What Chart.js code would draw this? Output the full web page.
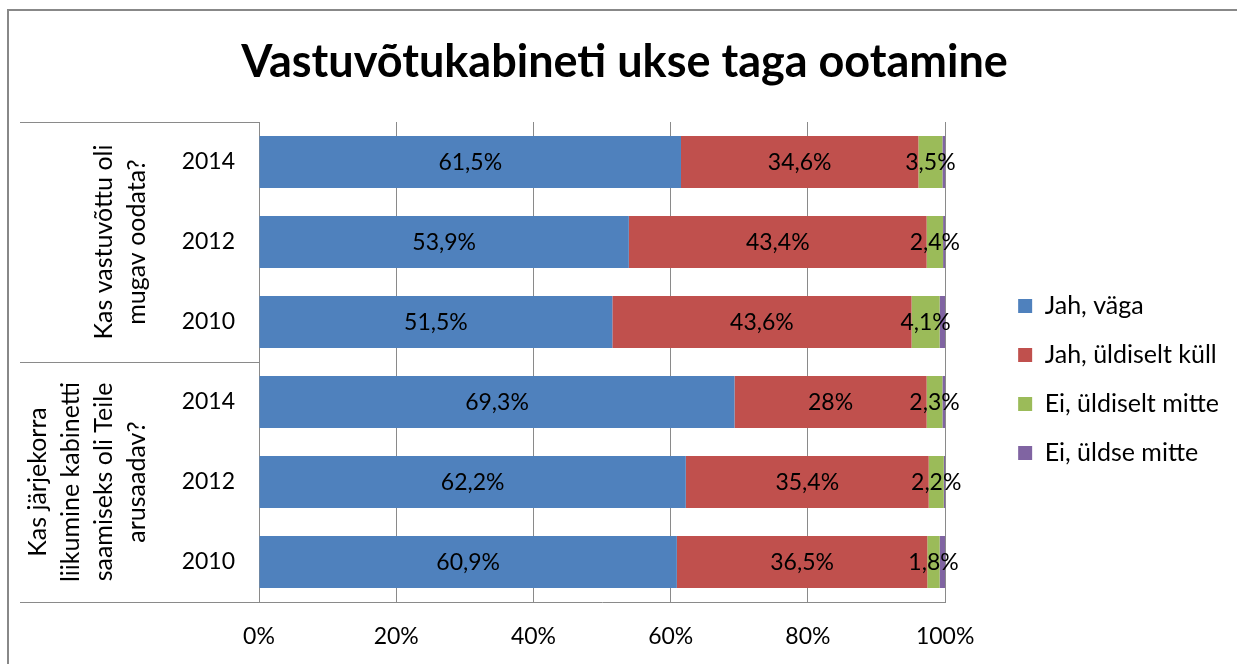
<!DOCTYPE html>
<html>
<head>
<meta charset="utf-8">
<script src="https://cdn.jsdelivr.net/npm/chart.js@4"></script>
<style>
  html, body { margin: 0; padding: 0; background: #fff; }
  #wrap { width: 1237px; height: 664px; }
</style>
</head>
<body>
<div id="wrap"><canvas id="chart" width="1237" height="664"></canvas></div>
<script>
// chart data
const years = ['2014', '2012', '2010', '2014', '2012', '2010'];
const groups = [
    ['Kas vastuvõttu oli', 'mugav oodata?'],
    ['Kas järjekorra', 'liikumine kabinetti', 'saamiseks oli Teile', 'arusaadav?'],
];
const seriesNames = ['Jah, väga', 'Jah, üldiselt küll', 'Ei, üldiselt mitte', 'Ei, üldse mitte'];
const jahVaga = [61.5, 53.9, 51.5, 69.3, 62.2, 60.9];
const jahKull = [34.6, 43.4, 43.6, 28, 35.4, 36.5];
const eiMitte = [3.5, 2.4, 4.1, 2.3, 2.2, 1.8];
const eiYldse = [0.4, 0.3, 0.8, 0.4, 0.2, 0.8];
const xTicks = [0, 20, 40, 60, 80, 100];

const colors = ['#4F81BD', '#C0504D', '#9BBB59', '#8064A2'];
const FONT = 'Lato, "Open Sans", sans-serif';
const NUM = 23;   // numbers
const TXT = 25;   // words
const lineColor = '#8a8a8a';

Chart.defaults.font.family = FONT;
Chart.defaults.color = '#000';

const fmt = (v) => String(v).replace('.', ',') + '%';

// border of the chart frame
const framePlugin = {
    id: 'frame',
    beforeDraw(chart) {
        const ctx = chart.ctx;
        ctx.save();
        ctx.strokeStyle = '#888';
        ctx.lineWidth = 2;
        ctx.beginPath();
        ctx.moveTo(8, chart.height);
        ctx.lineTo(8, 10);
        ctx.lineTo(chart.width, 10);
        ctx.stroke();
        ctx.restore();
    },
};

// group lines and rotated group names left of the years
const groupPlugin = {
    id: 'groups',
    afterDraw(chart) {
        const ctx = chart.ctx;
        const area = chart.chartArea;
        const step = (area.bottom - area.top) / years.length;
        ctx.save();
        ctx.strokeStyle = lineColor;
        ctx.lineWidth = 1;
        [0, 3, 6].forEach((k) => {
            const yy = Math.round(area.top + k * step) + 0.5;
            ctx.beginPath();
            ctx.moveTo(20, yy);
            ctx.lineTo(area.left, yy);
            ctx.stroke();
        });
        ctx.fillStyle = '#000';
        ctx.font = TXT + 'px ' + FONT;
        ctx.textAlign = 'center';
        ctx.textBaseline = 'alphabetic';
        groups.forEach((lines, g) => {
            const cy = area.top + (g * 3 + 1.5) * step;
            ctx.save();
            ctx.translate(0, cy);
            ctx.rotate(-Math.PI / 2);
            lines.forEach((t, i) => {
                ctx.fillText(t, 0, 145 - (lines.length - 1 - i) * 33);
            });
            ctx.restore();
        });
        ctx.restore();
    },
};

// value labels in the middle of the segments
const labelPlugin = {
    id: 'valueLabels',
    afterDatasetsDraw(chart) {
        const ctx = chart.ctx;
        ctx.save();
        ctx.fillStyle = '#000';
        ctx.font = NUM + 'px ' + FONT;
        ctx.textAlign = 'center';
        ctx.textBaseline = 'middle';
        [0, 1, 2].forEach((di) => {
            const meta = chart.getDatasetMeta(di);
            meta.data.forEach((bar, i) => {
                const p = bar.getProps(['x', 'y', 'base'], true);
                ctx.fillText(fmt(chart.data.datasets[di].data[i]), (p.x + p.base) / 2, p.y + 1);
            });
        });
        ctx.restore();
    },
};

const seriesData = [jahVaga, jahKull, eiMitte, eiYldse];

new Chart(document.getElementById('chart'), {
    type: 'bar',
    data: {
        labels: years,
        datasets: seriesData.map((d, i) => ({
            label: seriesNames[i],
            data: d,
            backgroundColor: colors[i],
            borderWidth: 0,
            categoryPercentage: 1,
            barPercentage: 0.65,
        })),
    },
    options: {
        indexAxis: 'y',
        responsive: false,
        animation: false,
        layout: { padding: { left: 20, right: 8, top: 0, bottom: 0 } },
        scales: {
            x: {
                stacked: true,
                min: 0,
                max: 100,
                afterBuildTicks: (s) => { s.ticks = xTicks.map((v) => ({ value: v })); },
                afterFit: (s) => { s.height = 62; },
                ticks: {
                    padding: 21,
                    font: { size: NUM },
                    callback: (v) => v + '%',
                },
                grid: { color: lineColor, drawTicks: false },
                border: { color: lineColor },
            },
            y: {
                stacked: true,
                afterFit: (s) => { s.width = 239; },
                ticks: { padding: 24, font: { size: NUM } },
                grid: { display: false, drawTicks: false },
                border: { color: lineColor },
            },
            // empty space between the plot and the legend
            gap: {
                type: 'linear',
                position: 'right',
                display: false,
                afterFit: (s) => { s.width = 49; },
            },
        },
        plugins: {
            title: {
                display: true,
                text: 'Vastuvõtukabineti ukse taga ootamine',
                font: { size: 45, weight: 'bold' },
                padding: { top: 35, bottom: 33 },
            },
            legend: {
                position: 'right',
                fullSize: false,
                title: { display: true, text: '', padding: 0, font: { size: 35, lineHeight: 1 } },
                labels: {
                    boxWidth: 14,
                    boxHeight: 14,
                    padding: 24,
                    font: { size: TXT },
                },
            },
            tooltip: { enabled: false },
        },
    },
    plugins: [framePlugin, groupPlugin, labelPlugin],
});
</script>
</body>
</html>
